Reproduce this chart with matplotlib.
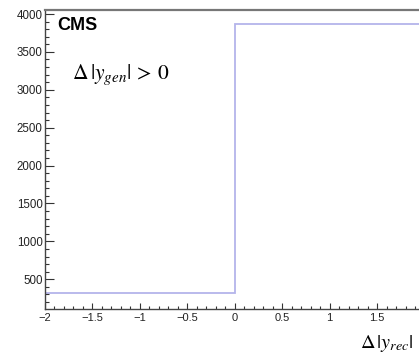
import matplotlib
matplotlib.use("Agg")
import matplotlib.pyplot as plt
from matplotlib.ticker import MultipleLocator

edges = [-2.0, 0.0, 2.0]
counts = [315, 3864]
xticks = [-2, -1.5, -1, -0.5, 0, 0.5, 1, 1.5]
xticklabels = ["\u22122", "\u22121.5", "\u22121", "\u22120.5", "0", "0.5", "1", "1.5"]
yticks = [500, 1000, 1500, 2000, 2500, 3000, 3500, 4000]

plt.rcParams['font.family'] = ['Liberation Sans', 'DejaVu Sans']
plt.rcParams['mathtext.fontset'] = 'stix'

W, H = 419, 356
fig = plt.figure(figsize=(W/100, H/100), dpi=100)
left = 44.7 / W
bottom = 1 - 309 / H
top = 1 - 10 / H
right = 424.5 / W
ax = fig.add_axes([left, bottom, right - left, top - bottom])

ax.stairs(counts, edges, baseline=None, color='#b4b4ea', linewidth=1.3)

ax.set_xlim(-2, 2)
ax.set_ylim(108, 4053)
ax.set_xticks(xticks)
ax.set_xticklabels(xticklabels)
ax.set_yticks(yticks)
ax.set_yticklabels([str(v) for v in yticks])
ax.xaxis.set_minor_locator(MultipleLocator(0.1))
ax.yaxis.set_minor_locator(MultipleLocator(100))

ax.tick_params(axis='both', which='both', direction='in', colors='#333333',
               labelcolor='#222222', width=0.8)
ax.tick_params(axis='y', which='major', length=6.5, pad=1.5, labelsize=8.3)
ax.tick_params(axis='y', which='minor', length=3)
ax.tick_params(axis='x', which='major', length=4.5, pad=3.0, labelsize=8.0)
ax.tick_params(axis='x', which='minor', length=2.3)
ax.tick_params(top=False, right=False, which='both')

for s in ['left', 'bottom']:
    ax.spines[s].set_color('#444444')
    ax.spines[s].set_linewidth(1.0)
ax.spines['top'].set_color('#777777')
ax.spines['top'].set_linewidth(1.6)
ax.spines['right'].set_visible(False)

fig.text(57 / W, 1 - 25 / H, 'CMS', fontsize=13, fontweight='bold',
         ha='left', va='center', color='black')
fig.text(72 / W, 1 - 75 / H, r'$\Delta\,|y_{gen}|\,>\,0$', fontsize=15.5,
         ha='left', va='center', color='black')
fig.text(360 / W, 1 - 348 / H, r'$\Delta\,|y_{rec}|$', fontsize=14.5,
         ha='left', va='baseline', color='black')

fig.savefig('out.png', dpi=100)
